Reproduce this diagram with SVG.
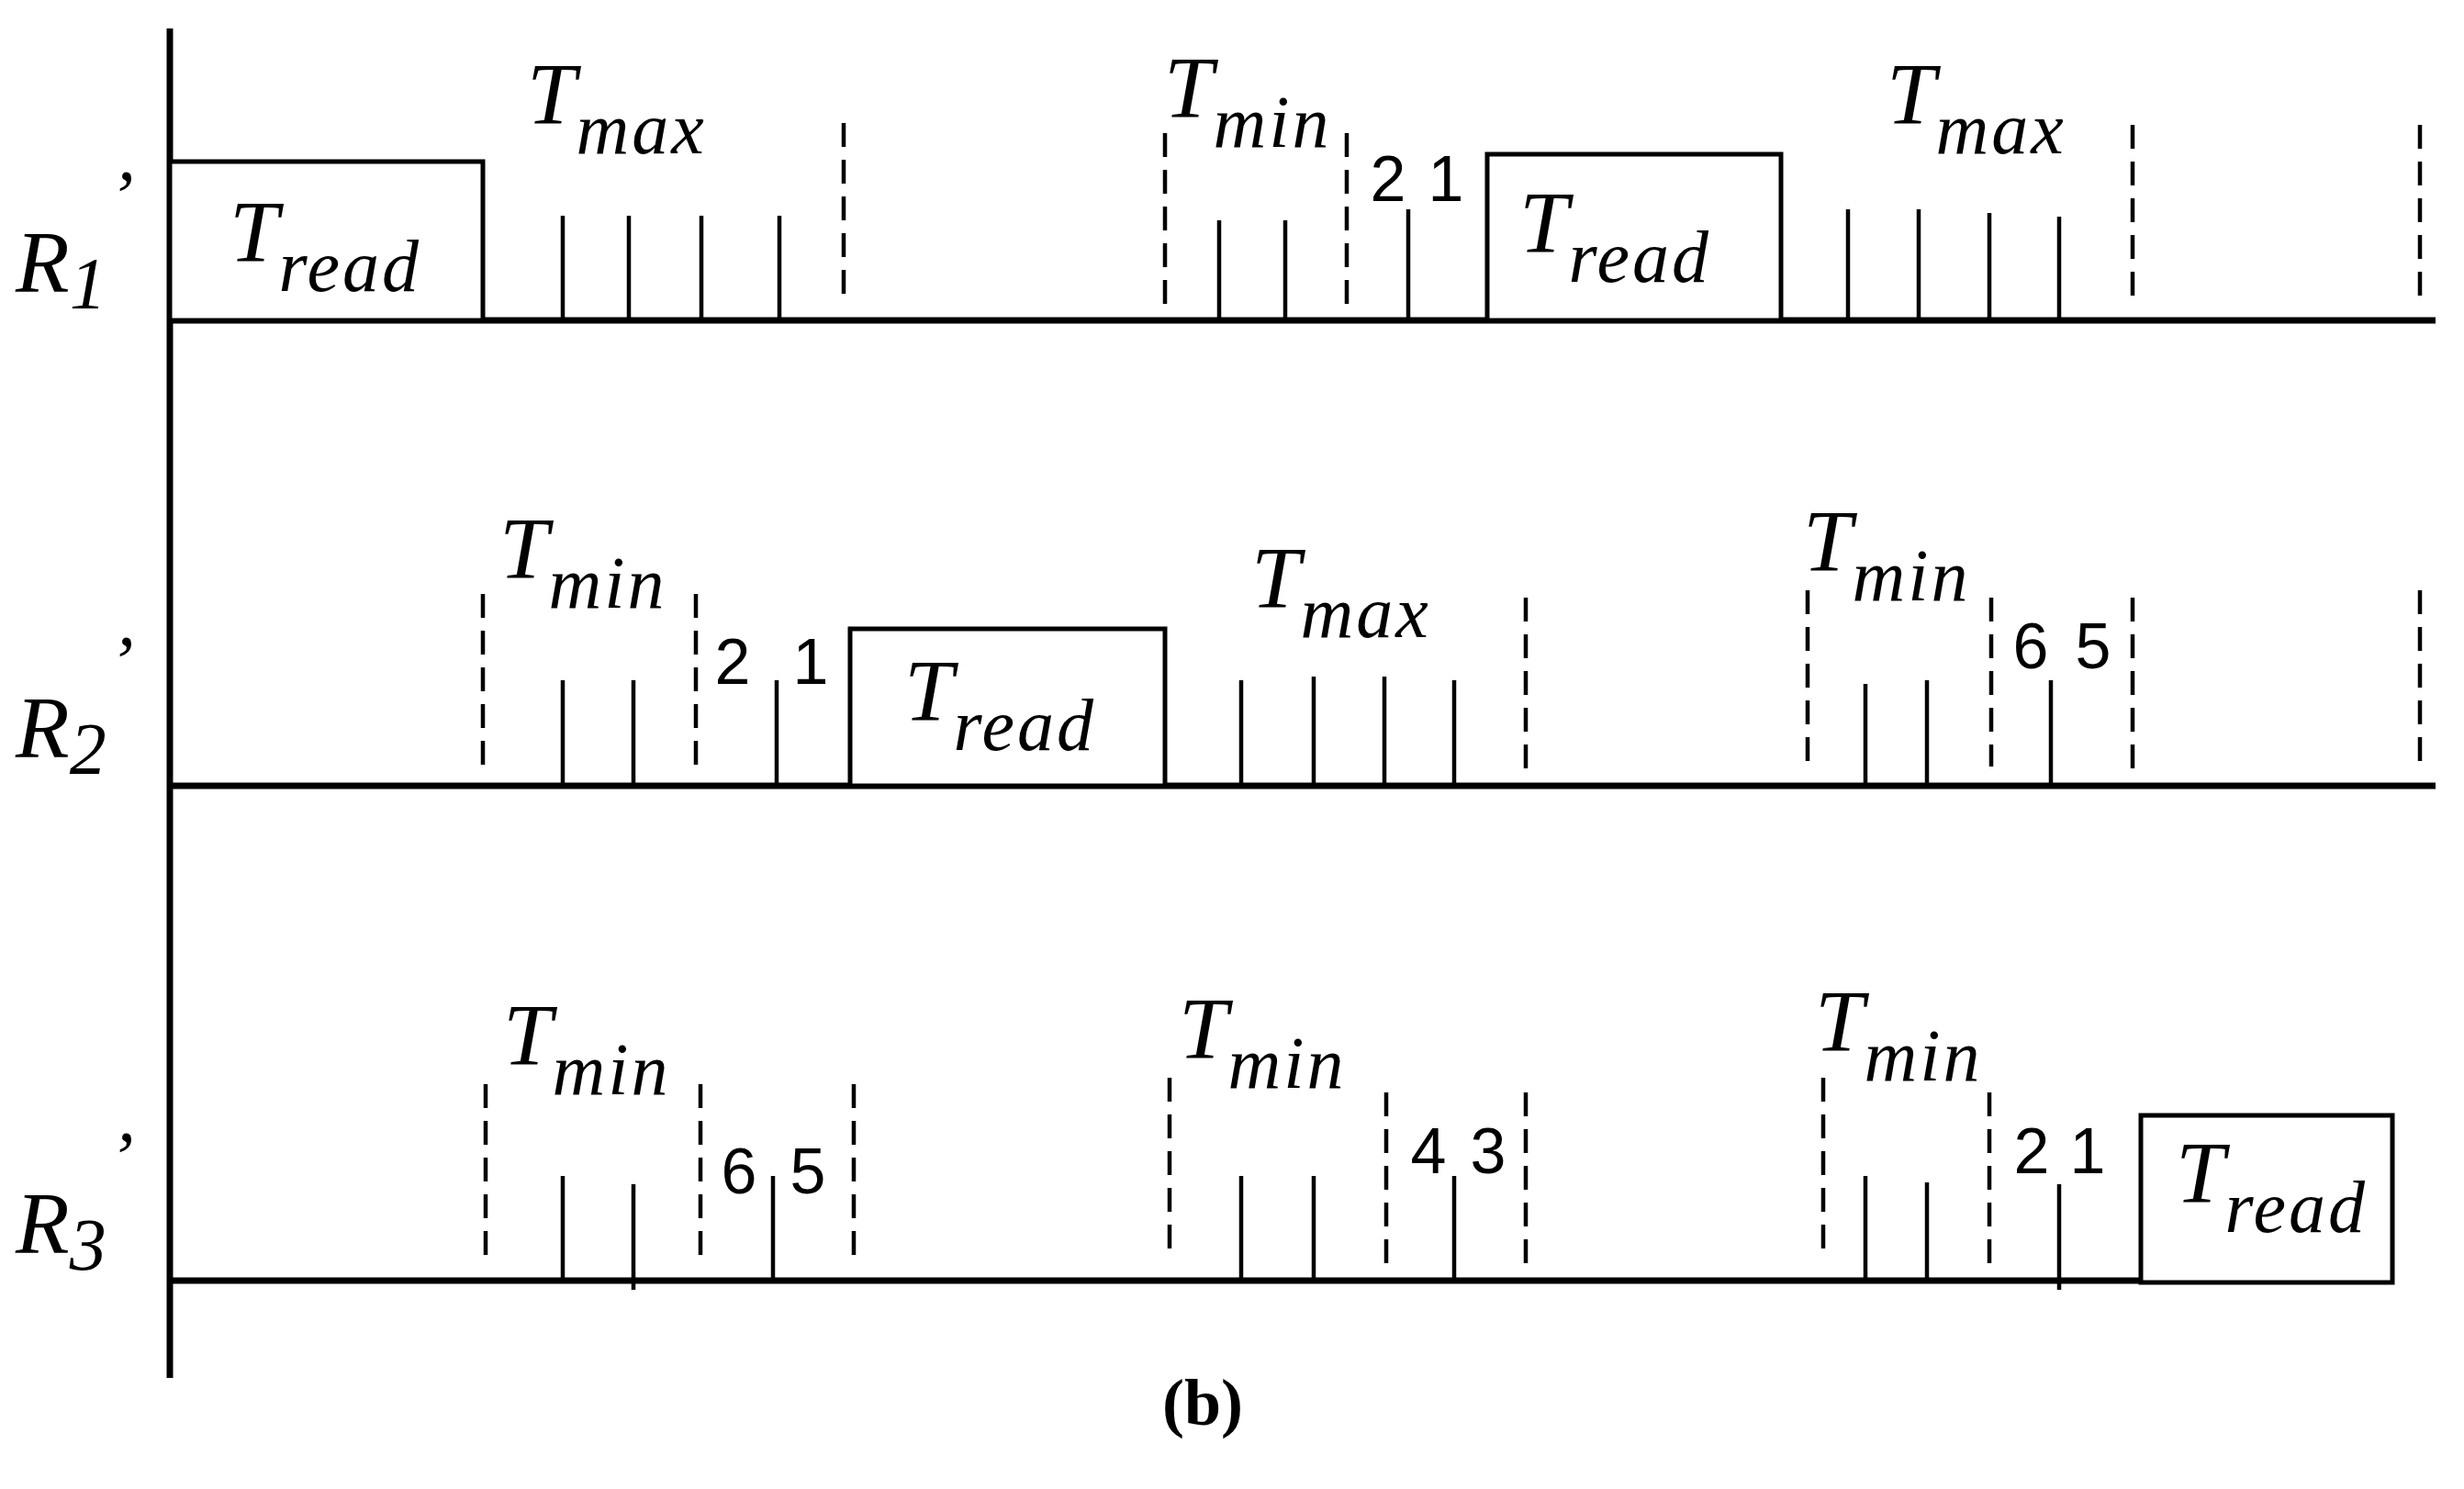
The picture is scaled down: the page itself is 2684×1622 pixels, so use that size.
<svg xmlns="http://www.w3.org/2000/svg" width="2684" height="1622" viewBox="0 0 2684 1622">
<style>
.ax{stroke:#000;stroke-width:7;fill:none}
.bx{stroke:#000;stroke-width:5;fill:#fff}
.tk{stroke:#000;stroke-width:4.5}
.ds{stroke:#000;stroke-width:4.5;stroke-dasharray:26 14}
.m{font-family:"Liberation Serif",serif;font-style:italic;font-size:96px;fill:#000}
.s{font-size:80px;letter-spacing:3px}
.n{font-family:"Liberation Sans",sans-serif;font-size:70px;fill:#000}
.b{font-family:"Liberation Serif",serif;font-weight:bold;font-size:72px;fill:#000}
</style>
<rect width="2684" height="1622" fill="#fff"/>
<g id="axes">
<line class="ax" x1="185" y1="31" x2="185" y2="1501"/>
<line class="ax" x1="185" y1="349" x2="2653" y2="349"/>
<line class="ax" x1="185" y1="856" x2="2653" y2="856"/>
<line class="ax" x1="185" y1="1395" x2="2332" y2="1395"/>
</g>
<g id="labels">
<text class="m" x="17" y="318">R<tspan class="s" dy="18">1</tspan><tspan dy="-95" font-size="80">’</tspan></text>
<text class="m" x="17" y="825">R<tspan class="s" dy="18">2</tspan><tspan dy="-95" font-size="80">’</tspan></text>
<text class="m" x="17" y="1365">R<tspan class="s" dy="18">3</tspan><tspan dy="-95" font-size="80">’</tspan></text>
<text class="b" x="1310" y="1552" text-anchor="middle">(b)</text>
</g>
<g id="R1">
<rect class="bx" x="185" y="176" width="341" height="173"/>
<text class="m" x="250" y="285">T<tspan class="s" dy="32">read</tspan></text>
<rect class="bx" x="1620" y="168" width="320" height="181"/>
<text class="m" x="1655" y="275">T<tspan class="s" dy="32">read</tspan></text>
<text class="m" x="574" y="135">T<tspan class="s" dy="32">max</tspan></text>
<text class="m" x="1268" y="128">T<tspan class="s" dy="32">min</tspan></text>
<text class="m" x="2055" y="135">T<tspan class="s" dy="32">max</tspan></text>
<text class="n" x="1512" y="219" text-anchor="middle">2</text>
<text class="n" x="1575" y="219" text-anchor="middle">1</text>
<g class="tk"><line x1="613" y1="235" x2="613" y2="349"/><line x1="685" y1="235" x2="685" y2="349"/><line x1="764" y1="235" x2="764" y2="349"/><line x1="849" y1="235" x2="849" y2="349"/>
<line x1="1328" y1="240" x2="1328" y2="349"/><line x1="1400" y1="240" x2="1400" y2="349"/><line x1="1534" y1="228" x2="1534" y2="349"/>
<line x1="2013" y1="228" x2="2013" y2="349"/><line x1="2090" y1="228" x2="2090" y2="349"/><line x1="2167" y1="232" x2="2167" y2="349"/><line x1="2243" y1="236" x2="2243" y2="349"/></g>
<g class="ds"><line x1="919" y1="134" x2="919" y2="322"/><line x1="1269" y1="145" x2="1269" y2="334"/><line x1="1467" y1="145" x2="1467" y2="334"/><line x1="2323" y1="136" x2="2323" y2="324"/><line x1="2636" y1="136" x2="2636" y2="324"/></g>
</g>
<g id="R2">
<rect class="bx" x="926" y="685" width="343" height="171"/>
<text class="m" x="985" y="785">T<tspan class="s" dy="32">read</tspan></text>
<text class="m" x="544" y="630">T<tspan class="s" dy="32">min</tspan></text>
<text class="m" x="1363" y="662">T<tspan class="s" dy="32">max</tspan></text>
<text class="m" x="1964" y="622">T<tspan class="s" dy="32">min</tspan></text>
<text class="n" x="798" y="745" text-anchor="middle">2</text>
<text class="n" x="883" y="745" text-anchor="middle">1</text>
<text class="n" x="2212" y="728" text-anchor="middle">6</text>
<text class="n" x="2280" y="728" text-anchor="middle">5</text>
<g class="tk"><line x1="613" y1="741" x2="613" y2="856"/><line x1="690" y1="741" x2="690" y2="856"/><line x1="846" y1="741" x2="846" y2="856"/>
<line x1="1352" y1="741" x2="1352" y2="856"/><line x1="1431" y1="737" x2="1431" y2="856"/><line x1="1508" y1="737" x2="1508" y2="856"/><line x1="1584" y1="741" x2="1584" y2="856"/>
<line x1="2032" y1="745" x2="2032" y2="856"/><line x1="2099" y1="741" x2="2099" y2="856"/><line x1="2234" y1="741" x2="2234" y2="856"/></g>
<g class="ds"><line x1="526" y1="647" x2="526" y2="839"/><line x1="758" y1="647" x2="758" y2="839"/><line x1="1662" y1="651" x2="1662" y2="843"/><line x1="1969" y1="643" x2="1969" y2="835"/><line x1="2169" y1="651" x2="2169" y2="835"/><line x1="2323" y1="651" x2="2323" y2="839"/><line x1="2636" y1="643" x2="2636" y2="835"/></g>
</g>
<g id="R3">
<rect class="bx" x="2332" y="1215" width="274" height="182"/>
<text class="m" x="2370" y="1310">T<tspan class="s" dy="32">read</tspan></text>
<text class="m" x="548" y="1160">T<tspan class="s" dy="32">min</tspan></text>
<text class="m" x="1284" y="1153">T<tspan class="s" dy="32">min</tspan></text>
<text class="m" x="1977" y="1145">T<tspan class="s" dy="32">min</tspan></text>
<text class="n" x="805" y="1300" text-anchor="middle">6</text>
<text class="n" x="880" y="1300" text-anchor="middle">5</text>
<text class="n" x="1556" y="1278" text-anchor="middle">4</text>
<text class="n" x="1621" y="1278" text-anchor="middle">3</text>
<text class="n" x="2213" y="1278" text-anchor="middle">2</text>
<text class="n" x="2274" y="1278" text-anchor="middle">1</text>
<g class="tk"><line x1="613" y1="1281" x2="613" y2="1395"/><line x1="690" y1="1290" x2="690" y2="1405"/><line x1="842" y1="1281" x2="842" y2="1395"/>
<line x1="1352" y1="1281" x2="1352" y2="1395"/><line x1="1431" y1="1281" x2="1431" y2="1395"/><line x1="1584" y1="1281" x2="1584" y2="1395"/>
<line x1="2032" y1="1281" x2="2032" y2="1395"/><line x1="2099" y1="1288" x2="2099" y2="1395"/><line x1="2243" y1="1290" x2="2243" y2="1405"/></g>
<g class="ds"><line x1="529" y1="1181" x2="529" y2="1370"/><line x1="763" y1="1181" x2="763" y2="1370"/><line x1="930" y1="1181" x2="930" y2="1370"/><line x1="1274" y1="1174" x2="1274" y2="1362"/><line x1="1510" y1="1190" x2="1510" y2="1380"/><line x1="1662" y1="1190" x2="1662" y2="1380"/><line x1="1986" y1="1174" x2="1986" y2="1362"/><line x1="2167" y1="1190" x2="2167" y2="1380"/></g>
</g>
</svg>
